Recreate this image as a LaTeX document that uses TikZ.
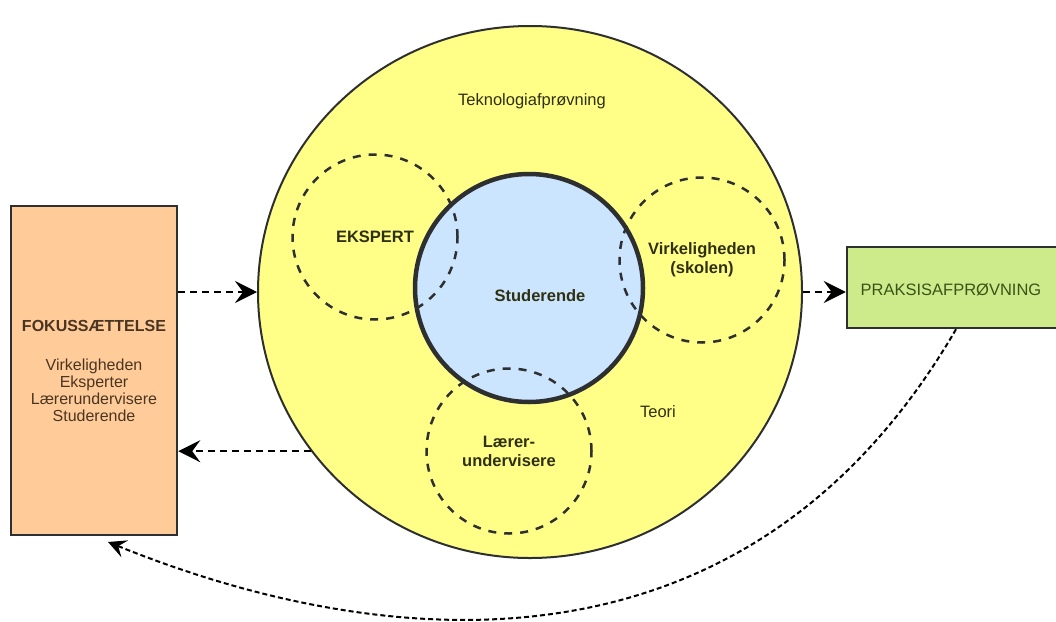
\documentclass[tikz,border=0pt]{standalone}
\usepackage{fontspec}
\setmainfont{Liberation Sans}
\usetikzlibrary{arrows.meta,shapes.geometric}
\definecolor{yel}{HTML}{FFFF88}
\definecolor{blu}{HTML}{CCE5FF}
\definecolor{peach}{HTML}{FFCC99}
\definecolor{grn}{HTML}{CDEB8B}
\definecolor{edge}{HTML}{2E2F30}
\definecolor{txtY}{HTML}{2F2F12}
\definecolor{txtG}{HTML}{3A5418}
\definecolor{txtP}{HTML}{4A3522}
\tikzset{
  base/.style={font=\fontsize{16.5}{19}\selectfont, inner sep=0pt},
  bigcirc/.style={ellipse, draw=edge, line width=2pt, fill=yel, minimum width=544pt, minimum height=532pt},
  corecirc/.style={circle, draw=edge, line width=4.5pt, fill=blu, minimum size=228pt},
  dashcirc/.style={circle, draw=edge, line width=2.5pt, dash pattern=on 8pt off 8pt, minimum size=165pt, base, font=\fontsize{16.5}{19}\selectfont\bfseries, text=txtY, align=center},
  boxnode/.style={rectangle, draw=edge, line width=2.5pt, base, align=center},
  tipbig/.tip={Stealth[length=22pt,width=22pt,inset=8pt]},
  tipmid/.tip={Stealth[length=18pt,width=18pt,inset=7pt]},
  conn/.style={draw=black, line width=2pt, dash pattern=on 7pt off 5pt, -tipbig},
  loopconn/.style={draw=black, line width=2pt, dash pattern=on 5pt off 3pt, -tipmid},
  lbl/.style={base, text=txtY}
}
\begin{document}
\begin{tikzpicture}[x=1pt,y=-1pt]
\useasboundingbox (0,0) rectangle (1056,621);
\fill[white] (0,0) rectangle (1056,621);

\node[bigcirc] (tech) at (530,292) {};
\node[corecirc] (core) at (529,288) {};
\node[dashcirc] (ekspert) at (375,237) {EKSPERT};
\node[dashcirc] (virk) at (702,260) {Virkeligheden\\(skolen)};
\node[dashcirc] (laerer) at (509,451) {Lærer-\\undervisere};

\node[lbl, font=\fontsize{16.5}{19}\selectfont\bfseries] (stud) at (540,296) {Studerende};
\node[lbl] (tekn) at (532,101) {Teknologiafprøvning};
\node[lbl] (teori) at (658,412) {Teori};

\node[boxnode, fill=peach, minimum width=166pt, minimum height=329pt, text=txtP, font=\fontsize{16}{17}\selectfont] (fokus) at (94,370.5)
  {\textbf{FOKUSSÆTTELSE}\\[22pt]Virkeligheden\\Eksperter\\Lærerundervisere\\Studerende};
\node[boxnode, fill=grn, minimum width=222pt, minimum height=81pt, text=txtG] (praks) at (958,287.5) {};
\node[lbl, text=txtG] (praksT) at (951,290) {PRAKSISAFPRØVNING};

\draw[conn] (fokus.east |- tech.west) -- (tech.west);
\draw[conn] (tech.east) -- (praks.west |- tech.east);
\draw[conn] (tech.216) -- (fokus.east |- tech.216);
\coordinate (loopE) at (108,542);
\draw[loopconn] ([xshift=-2pt]praks.south) .. controls (745,692) and (380,652) .. (loopE);
\end{tikzpicture}
\end{document}
